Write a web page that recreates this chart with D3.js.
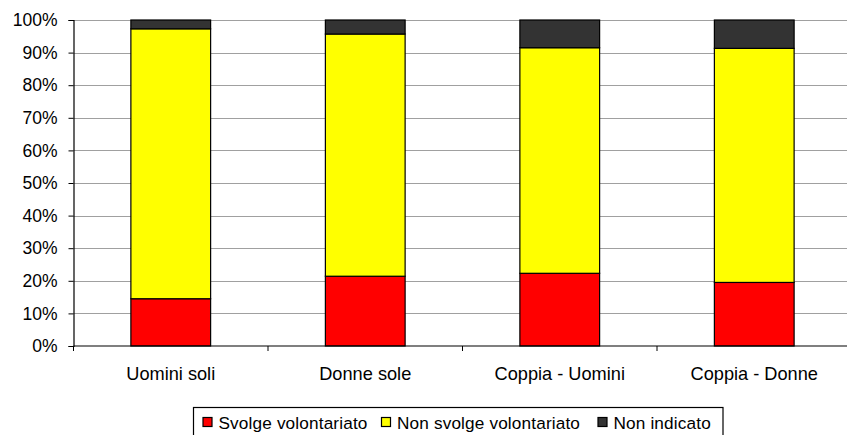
<!DOCTYPE html>
<html>
<head>
<meta charset="utf-8">
<script src="https://cdn.jsdelivr.net/npm/d3@7"></script>
<style>
  html, body { margin: 0; padding: 0; background: #fff; }
  svg { display: block; font-family: "Liberation Sans", Arial, sans-serif; }
</style>
</head>
<body>
<svg id="chart" width="847" height="435"></svg>
<script>
// Categories and stacked shares (percent of each group)
const categories = ["Uomini soli", "Donne sole", "Coppia - Uomini", "Coppia - Donne"];
const svolge = [14.5, 21.4, 22.3, 19.5];
const nonSvolge = [82.8, 74.3, 69.2, 71.8];
const nonIndicato = [2.7, 4.3, 8.5, 8.7];
const seriesNames = ["Svolge volontariato", "Non svolge volontariato", "Non indicato"];
const seriesColors = ["#ff0000", "#ffff00", "#333333"];
const yTicks = [0, 10, 20, 30, 40, 50, 60, 70, 80, 90, 100];

const rows = categories.map((c, i) => ({
  cat: c,
  s0: svolge[i],
  s1: nonSvolge[i],
  s2: nonIndicato[i]
}));

const svg = d3.select("#chart");
const margin = { left: 73.5, top: 20, bottom: 346 };
const plotRight = 851.5;

const x = d3.scaleBand().domain(categories).range([margin.left, plotRight]).paddingInner(0.59).paddingOuter(0.295);
const y = d3.scaleLinear().domain([0, 100]).range([margin.bottom, margin.top]);

// horizontal gridlines
svg.append("g")
  .selectAll("line")
  .data(yTicks.filter(d => d > 0))
  .join("line")
  .attr("x1", margin.left).attr("x2", plotRight)
  .attr("y1", d => Math.round(y(d)) + 0.5).attr("y2", d => Math.round(y(d)) + 0.5)
  .attr("stroke", "#a0a0a0").attr("stroke-width", 1.2);

// stacked bars
const stack = d3.stack().keys(["s0", "s1", "s2"]);
const layers = stack(rows);
svg.append("g")
  .selectAll("g")
  .data(layers)
  .join("g")
  .attr("fill", (d, i) => seriesColors[i])
  .selectAll("rect")
  .data(d => d)
  .join("rect")
  .attr("x", d => x(d.data.cat))
  .attr("width", x.bandwidth())
  .attr("y", d => y(d[1]))
  .attr("height", d => y(d[0]) - y(d[1]))
  .attr("stroke", "#000")
  .attr("stroke-width", 1.2);

// y axis
const yAxis = d3.axisLeft(y).tickValues(yTicks).tickFormat(d => d + "%").tickSize(5).tickPadding(11);
const gy = svg.append("g").attr("transform", `translate(${margin.left},0)`).call(yAxis);
gy.select(".domain").attr("stroke", "#000").attr("stroke-width", 1.2);
gy.selectAll(".tick line").attr("stroke", "#000");
gy.selectAll(".tick text").attr("font-size", 17.5).attr("fill", "#000")
  .attr("font-family", "Liberation Sans, Arial, sans-serif");

// x axis with tick marks on band boundaries
const gx = svg.append("g").attr("transform", `translate(0,${margin.bottom})`);
gx.append("line").attr("x1", margin.left).attr("x2", plotRight).attr("y1", 0).attr("y2", 0)
  .attr("stroke", "#000").attr("stroke-width", 1.2);
const step = x.step();
const bounds = d3.range(categories.length + 1).map(i => margin.left + i * step);
gx.selectAll("line.tk").data(bounds).join("line").attr("class", "tk")
  .attr("x1", d => d).attr("x2", d => d).attr("y1", 0).attr("y2", 5)
  .attr("stroke", "#000");
gx.selectAll("text").data(categories).join("text")
  .attr("x", d => x(d) + x.bandwidth() / 2)
  .attr("y", 34)
  .attr("text-anchor", "middle")
  .attr("font-size", 18.2)
  .attr("fill", "#000")
  .text(d => d);

// legend
const lg = svg.append("g");
lg.append("rect").attr("x", 193.5).attr("y", 407.5).attr("width", 529.5).attr("height", 32)
  .attr("fill", "#fff").attr("stroke", "#000").attr("stroke-width", 1.2);
const legendX = [202.5, 381, 597.5];
const items = lg.selectAll("g.item").data(seriesNames).join("g").attr("class", "item")
  .attr("transform", (d, i) => `translate(${legendX[i]},0)`);
items.append("rect").attr("x", 0.5).attr("y", 417.5).attr("width", 9).attr("height", 9)
  .attr("fill", (d, i) => seriesColors[i]).attr("stroke", "#000").attr("stroke-width", 1.2);
items.append("text").attr("x", 16).attr("y", 428.5).attr("font-size", 17.2)
  .attr("letter-spacing", 0.15).attr("fill", "#000").text(d => d);
</script>
</body>
</html>
